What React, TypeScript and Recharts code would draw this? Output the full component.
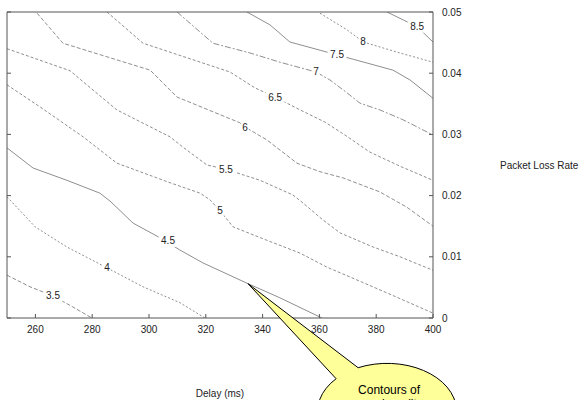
import React from 'react';
import { LineChart, Line, XAxis, YAxis, ReferenceDot } from 'recharts';

// ---- data ----
const xTicks = [260, 280, 300, 320, 340, 360, 380, 400];
const yTicks = [0, 0.01, 0.02, 0.03, 0.04, 0.05];

const c35: [number, number][] = [[250, 0.007], [258.1, 0.0051], [266.2, 0.0036], [273.2, 0.0018], [279.9, 0]];
const c40: [number, number][] = [[250, 0.0198], [259.9, 0.0149], [271.1, 0.0116], [285.2, 0.0082], [297.9, 0.0051], [310.9, 0.0025], [319.7, 0]];
const c45: [number, number][] = [[250, 0.0278], [259.2, 0.0245], [271.1, 0.0225], [282.7, 0.0204], [286.3, 0.0191], [294.4, 0.0155], [303.9, 0.0131], [310.9, 0.0111], [319.0, 0.009], [334.9, 0.0056], [346.1, 0.0033], [360.9, 0]];
const c50: [number, number][] = [[250, 0.0381], [261.6, 0.0345], [276.8, 0.0296], [288.7, 0.0253], [307.4, 0.0221], [318.0, 0.0204], [321.5, 0.0193], [325.0, 0.0175], [329.6, 0.0149], [341.5, 0.0127], [353.2, 0.0106], [362.7, 0.0083], [370.8, 0.0067], [383.8, 0.0041], [400, 0.0008]];
const c55: [number, number][] = [[250, 0.044], [272.2, 0.0404], [276.8, 0.0386], [288.7, 0.034], [307.4, 0.0296], [312.0, 0.0279], [320.4, 0.025], [327.1, 0.0243], [339.1, 0.0225], [350.7, 0.0201], [354.2, 0.0188], [361.3, 0.016], [367.3, 0.0139], [378.9, 0.0116], [388.4, 0.01], [400, 0.0078]];
const c60: [number, number][] = [[260.6, 0.0498], [269.7, 0.0449], [300.4, 0.0405], [309.9, 0.0361], [332.0, 0.0319], [333.8, 0.0312], [341.5, 0.0291], [352.1, 0.0253], [360.2, 0.0239], [368.3, 0.0229], [381.3, 0.0206], [390.8, 0.0181], [400, 0.015]];
const c65: [number, number][] = [[285.2, 0.05], [297.9, 0.0449], [328.5, 0.0402], [337.3, 0.0376], [344.4, 0.0361], [353.2, 0.034], [362.0, 0.032], [369.0, 0.0299], [377.8, 0.0271], [388.4, 0.0248], [400, 0.0225]];
const c70: [number, number][] = [[309.9, 0.05], [322.5, 0.0449], [335.6, 0.0433], [346.1, 0.0418], [358.8, 0.0402], [363.7, 0.0389], [369.7, 0.0368], [374.3, 0.0351], [381.3, 0.034], [389.4, 0.0324], [400, 0.0299]];
const c75: [number, number][] = [[334.5, 0.05], [342.6, 0.0479], [349.6, 0.0451], [366.2, 0.043], [385.9, 0.0405], [391.9, 0.0389], [400, 0.0359]];
const c80: [number, number][] = [[360.2, 0.0498], [369.7, 0.0471], [375.4, 0.0451], [388.4, 0.0433], [400, 0.0418]];
const c85: [number, number][] = [[383.8, 0.05], [394.4, 0.0476], [400, 0.0451]];

const levelNames = ['3.5', '4', '4.5', '5', '5.5', '6', '6.5', '7', '7.5', '8', '8.5'];
const levelData = [c35, c40, c45, c50, c55, c60, c65, c70, c75, c80, c85];
const levelDash = ['4 2', '2 2', '', '3 2', '3 2', '4 2', '3 2', '6 2 2 2', '', '2 2', ''];

// label anchor positions (delay, loss)
const labelX = [266.2, 285.2, 306.7, 325.0, 327.1, 333.8, 344.4, 358.8, 366.2, 375.4, 394.4];
const labelY = [0.0036, 0.0082, 0.0126, 0.0175, 0.0243, 0.0312, 0.0361, 0.0402, 0.043, 0.0451, 0.0476];

const calloutAt = [334.9, 0.0056];
const calloutLines = ['Contours of', 'equal quality'];

const series = levelData.map((arr) => arr.map(([d, p]) => ({ d, p })));

const AXIS = '#555';
const TXT = '#222';
const LINE = '#8f8f8f';

const BottomTick = (props: any) => {
  const { x, y, payload } = props;
  return (
    <g>
      <line x1={x} y1={y} x2={x} y2={y - 4} stroke={AXIS} />
      <text x={x} y={y + 15} textAnchor="middle" fontSize={10} fill={TXT}>{String(payload.value)}</text>
    </g>
  );
};
const TopTick = (props: any) => {
  const { x, y } = props;
  return <line x1={x} y1={y} x2={x} y2={y + 4} stroke={AXIS} />;
};
const RightTick = (props: any) => {
  const { x, y, payload } = props;
  return (
    <g>
      <line x1={x} y1={y} x2={x - 4} y2={y} stroke={AXIS} />
      <text x={x + 9} y={y} dominantBaseline="central" fontSize={10} fill={TXT}>{String(payload.value)}</text>
    </g>
  );
};
const LeftTick = (props: any) => {
  const { x, y } = props;
  return <line x1={x} y1={y} x2={x + 4} y2={y} stroke={AXIS} />;
};

const makeLabel = (text: string) => (p: any) => {
  const w = text.length * 5.6 + 2;
  return (
    <g>
      <rect x={p.cx - w / 2} y={p.cy - 6} width={w} height={12} fill="#fff" />
      <text x={p.cx} y={p.cy} textAnchor="middle" dominantBaseline="central" fontSize={10} fill={TXT}>{text}</text>
    </g>
  );
};

const Callout = (p: any) => {
  const { cx, cy } = p;
  return (
    <g transform={`translate(${cx},${cy})`}>
      <path d="M0,0 L88,95 A69.5 48 0 1 0 110,84 Z" fill="#ffff99" stroke="#000" strokeWidth={1} />
      <text x={141} y={110} textAnchor="middle" fontSize={12} fill="#000">{calloutLines[0]}</text>
      <text x={141} y={124} textAnchor="middle" fontSize={12} fill="#000">{calloutLines[1]}</text>
    </g>
  );
};

export default function App() {
  return (
    <div style={{ position: 'absolute', left: 0, top: 0 }}>
      <LineChart
        width={580}
        height={400}
        margin={{ top: 11, right: 87, bottom: 0, left: 6 }}
        style={{ fontFamily: '"Liberation Sans", Arial, sans-serif' }}
      >
        <XAxis
          xAxisId="b"
          type="number"
          dataKey="d"
          domain={[250, 400]}
          ticks={xTicks}
          allowDataOverflow
          orientation="bottom"
          height={82}
          tickSize={0}
          tickMargin={0}
          stroke={AXIS}
          tick={<BottomTick />}
          label={{ value: 'Delay (ms)', position: 'insideBottom', offset: 3, fontSize: 10, fill: TXT }}
        />
        <XAxis
          xAxisId="t"
          type="number"
          domain={[250, 400]}
          ticks={xTicks}
          allowDataOverflow
          orientation="top"
          height={1}
          tickSize={0}
          tickMargin={0}
          stroke={AXIS}
          tick={<TopTick />}
        />
        <YAxis
          yAxisId="r"
          type="number"
          domain={[0, 0.05]}
          ticks={yTicks}
          allowDataOverflow
          orientation="right"
          width={60}
          tickSize={0}
          tickMargin={0}
          stroke={AXIS}
          tick={<RightTick />}
          label={{ value: 'Packet Loss Rate', position: 'right', offset: 7, fontSize: 10, fill: TXT }}
        />
        <YAxis
          yAxisId="l"
          type="number"
          domain={[0, 0.05]}
          ticks={yTicks}
          allowDataOverflow
          orientation="left"
          width={1}
          tickSize={0}
          tickMargin={0}
          stroke={AXIS}
          tick={<LeftTick />}
        />
        {series.map((s, i) => (
          <Line
            key={levelNames[i]}
            xAxisId="b"
            yAxisId="r"
            data={s}
            dataKey="p"
            type="linear"
            stroke={LINE}
            strokeWidth={1}
            strokeDasharray={levelDash[i] || undefined}
            dot={false}
            activeDot={false}
            isAnimationActive={false}
          />
        ))}
        {levelNames.map((n, i) => (
          <ReferenceDot
            key={'lab' + n}
            xAxisId="b"
            yAxisId="r"
            x={labelX[i]}
            y={labelY[i]}
            r={0}
            shape={makeLabel(n)}
          />
        ))}
        <ReferenceDot xAxisId="b" yAxisId="r" x={calloutAt[0]} y={calloutAt[1]} r={0} shape={Callout} />
      </LineChart>
    </div>
  );
}
